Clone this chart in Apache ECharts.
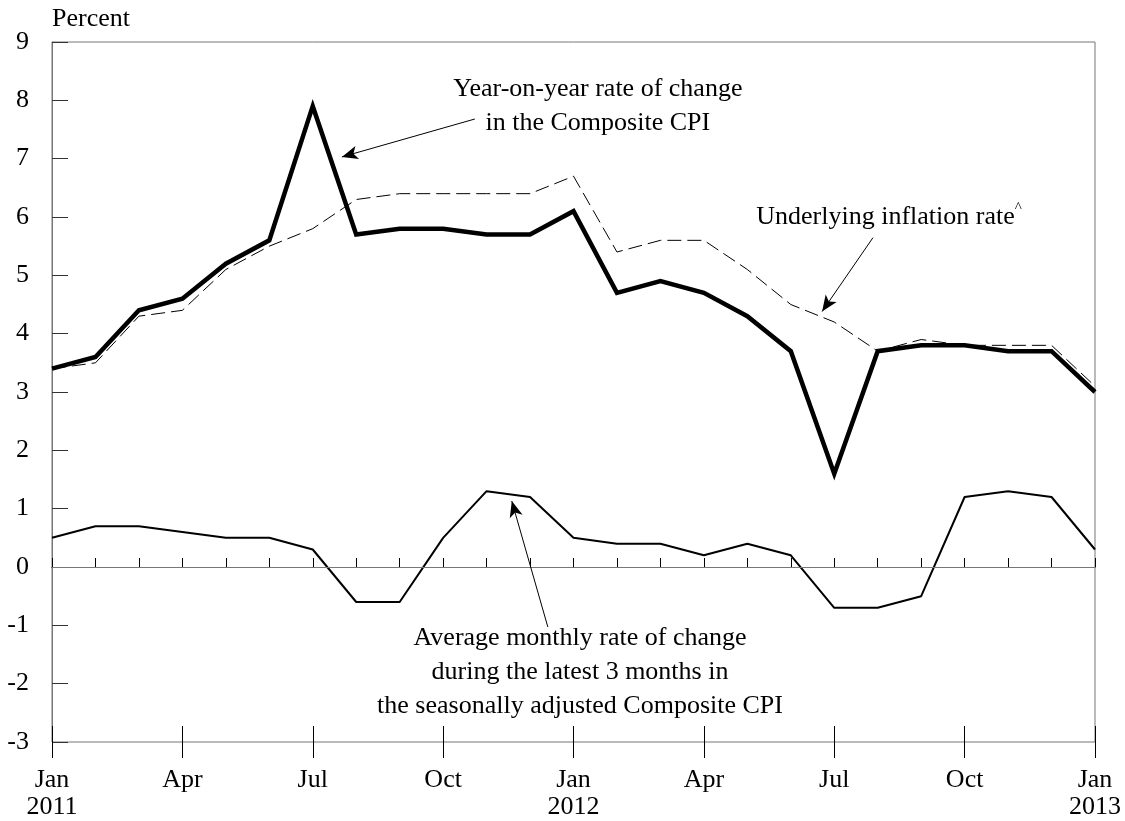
<!DOCTYPE html>
<html>
<head>
<meta charset="utf-8">
<script src="https://cdn.jsdelivr.net/npm/echarts@6/dist/echarts.min.js"></script>
<style>html,body{margin:0;padding:0;background:#fff}#c{width:1125px;height:821px}</style>
</head>
<body>
<div id="c"></div>
<script>
const months = ['Jan','Feb','Mar','Apr','May','Jun','Jul','Aug','Sep','Oct','Nov','Dec'];
const years = ['2011','2012','2013'];
const yoyCPI = [3.4, 3.6, 4.4, 4.6, 5.2, 5.6, 7.9, 5.7, 5.8, 5.8, 5.7, 5.7, 6.1, 4.7, 4.9, 4.7, 4.3, 3.7, 1.6, 3.7, 3.8, 3.8, 3.7, 3.7, 3.0];
const underlying = [3.4, 3.5, 4.3, 4.4, 5.1, 5.5, 5.8, 6.3, 6.4, 6.4, 6.4, 6.4, 6.7, 5.4, 5.6, 5.6, 5.1, 4.5, 4.2, 3.7, 3.9, 3.8, 3.8, 3.8, 3.1];
const avg3m = [0.5, 0.7, 0.7, 0.6, 0.5, 0.5, 0.3, -0.6, -0.6, 0.5, 1.3, 1.2, 0.5, 0.4, 0.4, 0.2, 0.4, 0.2, -0.7, -0.7, -0.5, 1.2, 1.3, 1.2, 0.3];

const FONT = 'Liberation Serif';
const FS = 26;
const pairs = arr => arr.map((v, i) => [i, v]);
const xLabel = v => { const m = v % 12; return m === 0 ? months[m] + '\n' + years[v / 12] : months[m]; };

const chart = echarts.init(document.getElementById('c'), null, {renderer: 'canvas'});
const baseX = {type: 'value', min: 0, max: 24, position: 'bottom', splitLine: {show: false}};
chart.setOption({
  animation: false,
  backgroundColor: '#fff',
  title: {text: 'Percent', left: 52, top: 6, padding: 0, textStyle: {fontFamily: FONT, fontSize: FS, fontWeight: 'normal', color: '#000'}},
  grid: {left: 52, right: 30, top: 42, bottom: 78, show: true, borderColor: '#777', borderWidth: 1, backgroundColor: 'transparent'},
  xAxis: [
    Object.assign({}, baseX, {interval: 1, axisLine: {show: true, lineStyle: {color: '#000', width: 1}},
      axisTick: {show: true, inside: true, length: 9, lineStyle: {color: '#000'}}, axisLabel: {show: false}}),
    Object.assign({}, baseX, {interval: 3, axisLine: {show: false},
      axisTick: {show: true, inside: true, length: 16, lineStyle: {color: '#000'}}, axisLabel: {show: false}}),
    Object.assign({}, baseX, {interval: 3, axisLine: {show: false},
      axisTick: {show: true, inside: false, length: 16, lineStyle: {color: '#000'}},
      axisLabel: {show: true, margin: 25, formatter: xLabel, fontFamily: FONT, fontSize: FS, color: '#000', lineHeight: 27}})
  ],
  yAxis: {type: 'value', min: -3, max: 9, interval: 1, splitLine: {show: false},
    axisLine: {show: true, lineStyle: {color: '#777'}},
    axisTick: {show: true, inside: true, length: 16, lineStyle: {color: '#333'}},
    axisLabel: {margin: 23, fontFamily: FONT, fontSize: FS, color: '#000'}},
  series: [
    {type: 'line', name: 'Average monthly', data: pairs(avg3m), symbol: 'none', z: 3,
      lineStyle: {color: '#000', width: 2},
      markLine: {silent: true, symbol: 'none', label: {show: false}, lineStyle: {color: '#777', width: 1, type: 'solid'},
        data: [{yAxis: 0}]}},
    {type: 'line', name: 'Underlying', data: pairs(underlying), symbol: 'none', z: 4,
      lineStyle: {color: '#000', width: 1, type: [14, 6]}},
    {type: 'line', name: 'YoY', data: pairs(yoyCPI), symbol: 'none', z: 5,
      lineStyle: {color: '#000', width: 4.5, join: 'miter'},
      markLine: {silent: true, symbol: ['none', 'arrow'], symbolSize: [10, 16], label: {show: false},
        lineStyle: {color: '#000', width: 1, type: 'solid'},
        data: [
          [{coord: [9.73, 7.68]}, {coord: [6.67, 7.03]}],
          [{coord: [18.89, 5.645]}, {coord: [17.72, 4.38]}],
          [{coord: [11.41, -1.03]}, {coord: [10.58, 1.13]}]
        ]},
      markPoint: {silent: true, symbol: 'circle', symbolSize: 0,
        label: {show: true, fontFamily: FONT, fontSize: FS, color: '#000', lineHeight: 34, align: 'center', verticalAlign: 'middle'},
        data: [
          {coord: [12.56, 7.9], label: {formatter: 'Year-on-year rate of change\nin the Composite CPI'}},
          {coord: [19.26, 5.99], label: {formatter: '{a|Underlying inflation rate}{s|^}',
            rich: {a: {fontFamily: FONT, fontSize: FS, color: '#000'}, s: {fontFamily: FONT, fontSize: 15, color: '#000', verticalAlign: 'top', padding: [0, 0, 10, 0]}}}},
          {coord: [12.15, -1.8], label: {formatter: 'Average monthly rate of change\nduring the latest 3 months in\nthe seasonally adjusted Composite CPI'}}
        ]}}
  ]
});
</script>
</body>
</html>
